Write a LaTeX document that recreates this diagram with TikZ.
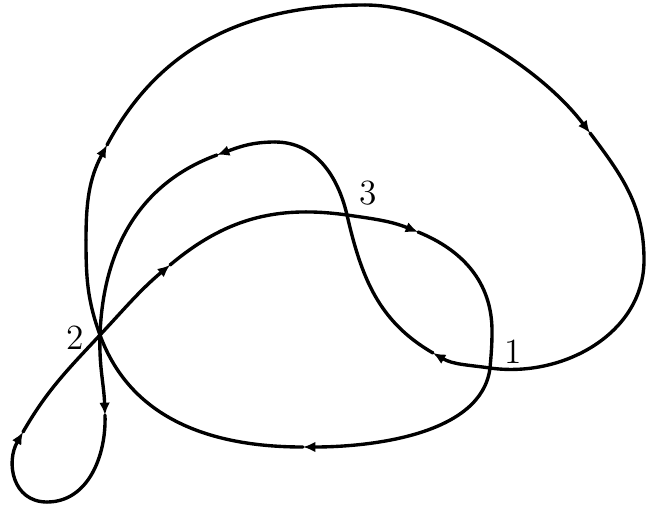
\documentclass[tikz,border=0pt]{standalone}
\usetikzlibrary{arrows.meta}
\begin{document}
\begin{tikzpicture}[x=0.125mm,y=0.125mm,line cap=round,line join=round,>={Latex[length=4.4pt,width=3.8pt]},
  curve/.style={line width=1.2pt},
  every node/.style={inner sep=1pt,font=\fontsize{12.6}{15}\selectfont}]
  \useasboundingbox (0,0) rectangle (646,506);
  \coordinate (p1) at (490,138);
  \coordinate (p2) at (100,171);
  \coordinate (p3) at (347,291);
  \coordinate (a1) at (170,241);
  \coordinate (a2) at (418,274);
  \coordinate (a3) at (303,59);
  \coordinate (a4) at (107,361);
  \coordinate (a5) at (590,373);
  \coordinate (a6) at (433,153);
  \coordinate (a7) at (217,351);
  \coordinate (a8) at (105,91);
  \coordinate (a9) at (23,74);
  \coordinate (q1) at (492,175);
  \coordinate (left) at (86,266);
  \coordinate (top) at (365,501);
  \coordinate (right) at (644,246);
  \coordinate (mid) at (275,364);
  \coordinate (low) at (47,4);
  \draw[curve,->] (p2) to[out=47,in=220] (a1);
  \draw[curve] (a1) to[out=40,in=172] (p3);
  \draw[curve,->] (p3) to[out=-8,in=158] (a2);
  \draw[curve] (a2) to[out=-22,in=90] (q1) to[out=-90,in=85] (p1);
  \draw[curve,->] (p1) to[out=-97,in=0,looseness=0.85] (a3);
  \draw[curve] (a3) to[out=180,in=-70] (p2) to[out=110,in=-90] (left);
  \draw[curve,->] (left) to[out=90,in=242] (a4);
  \draw[curve] (a4) to[out=62,in=180] (top);
  \draw[curve,->] (top) to[out=0,in=127,looseness=0.78] (a5);
  \draw[curve] (a5) to[out=-53,in=90] (right) to[out=-90,in=-8] (p1);
  \draw[curve,->] (p1) to[out=172,in=-30] (a6);
  \draw[curve] (a6) to[out=150,in=-77] (p3) to[out=103,in=0] (mid);
  \draw[curve,->] (mid) to[out=180,in=20] (a7);
  \draw[curve] (a7) to[out=200,in=88] (p2);
  \draw[curve,->] (p2) to[out=-92,in=92] (a8);
  \draw[curve] (a8) to[out=-88,in=0] (low);
  \draw[curve,->] (low) to[out=180,in=240,looseness=1.2] (a9);
  \draw[curve] (a9) to[out=60,in=227] (p2);
  \node (n1) at (513,154) {1};
  \node (n2) at (75,168) {2};
  \node (n3) at (368,313) {3};
\end{tikzpicture}
\end{document}
